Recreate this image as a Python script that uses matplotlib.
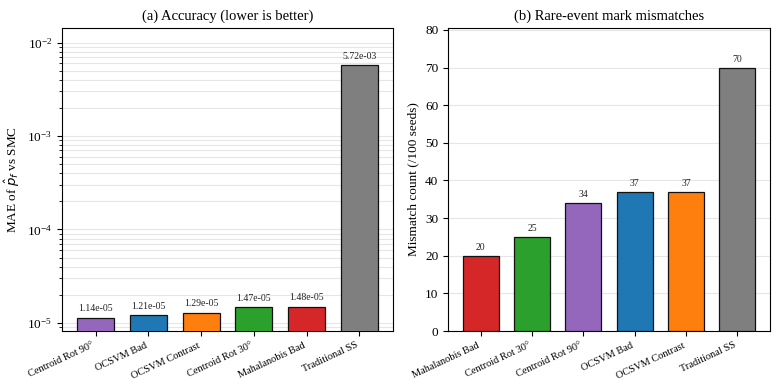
import matplotlib
matplotlib.use("Agg")
import matplotlib.pyplot as plt
import numpy as np

plt.rcParams['font.family'] = ['Liberation Serif', 'DejaVu Serif']

acc_methods = ["Centroid Rot 90°", "OCSVM Bad", "OCSVM Contrast", "Centroid Rot 30°",
               "Mahalanobis Bad", "Traditional SS"]
acc_values = [1.14e-05, 1.21e-05, 1.29e-05, 1.47e-05, 1.48e-05, 5.72e-03]
acc_colors = ["#9467bd", "#1f77b4", "#ff7f0e", "#2ca02c", "#d62728", "#7f7f7f"]

mm_methods = ["Mahalanobis Bad", "Centroid Rot 30°", "Centroid Rot 90°", "OCSVM Bad",
              "OCSVM Contrast", "Traditional SS"]
mm_values = [20, 25, 34, 37, 37, 70]
mm_colors = ["#d62728", "#2ca02c", "#9467bd", "#1f77b4", "#ff7f0e", "#7f7f7f"]

fig = plt.figure(figsize=(7.72, 3.83), dpi=100)
ax1 = fig.add_axes([62/772, 1-331/383, (393-62)/772, (331-28)/383])
ax2 = fig.add_axes([448/772, 1-331/383, (770-448)/772, (331-28)/383])

# Panel a
x = np.arange(len(acc_methods))
bars = ax1.bar(x, acc_values, width=0.7, color=acc_colors, edgecolor='#111111', linewidth=0.9, zorder=3)
ax1.set_yscale('log')
ax1.set_ylim(min(acc_values)*0.72, max(acc_values)*2.5)
ax1.grid(True, which='both', axis='y', color='#e6e6e6', linewidth=0.8, zorder=0)
for b, v in zip(bars, acc_values):
    ax1.text(b.get_x()+b.get_width()/2, v*1.12, f"{v:.2e}", ha='center', va='bottom', fontsize=7, color='#222222')
ax1.set_xticks(x)
ax1.set_xticklabels(acc_methods, rotation=25, ha='right', fontsize=7.5)
ax1.set_ylabel(r"MAE of $\hat{p}_f$ vs SMC", fontsize=9.5)
ax1.set_title("(a) Accuracy (lower is better)", fontsize=10.5)
ax1.tick_params(axis='y', labelsize=9.5)

# Panel b
x2 = np.arange(len(mm_methods))
bars2 = ax2.bar(x2, mm_values, width=0.7, color=mm_colors, edgecolor='#111111', linewidth=0.9, zorder=3)
ax2.set_ylim(0, max(mm_values)*1.15)
ax2.grid(True, axis='y', color='#e6e6e6', linewidth=0.8, zorder=0)
for b, v in zip(bars2, mm_values):
    ax2.text(b.get_x()+b.get_width()/2, v+1, f"{v}", ha='center', va='bottom', fontsize=7, color='#222222')
ax2.set_xticks(x2)
ax2.set_xticklabels(mm_methods, rotation=25, ha='right', fontsize=7.5)
ax2.set_ylabel("Mismatch count (/100 seeds)", fontsize=9.5)
ax2.set_title("(b) Rare-event mark mismatches", fontsize=10.5)
ax2.tick_params(axis='y', labelsize=9.5)

fig.savefig("out.png", dpi=100)
